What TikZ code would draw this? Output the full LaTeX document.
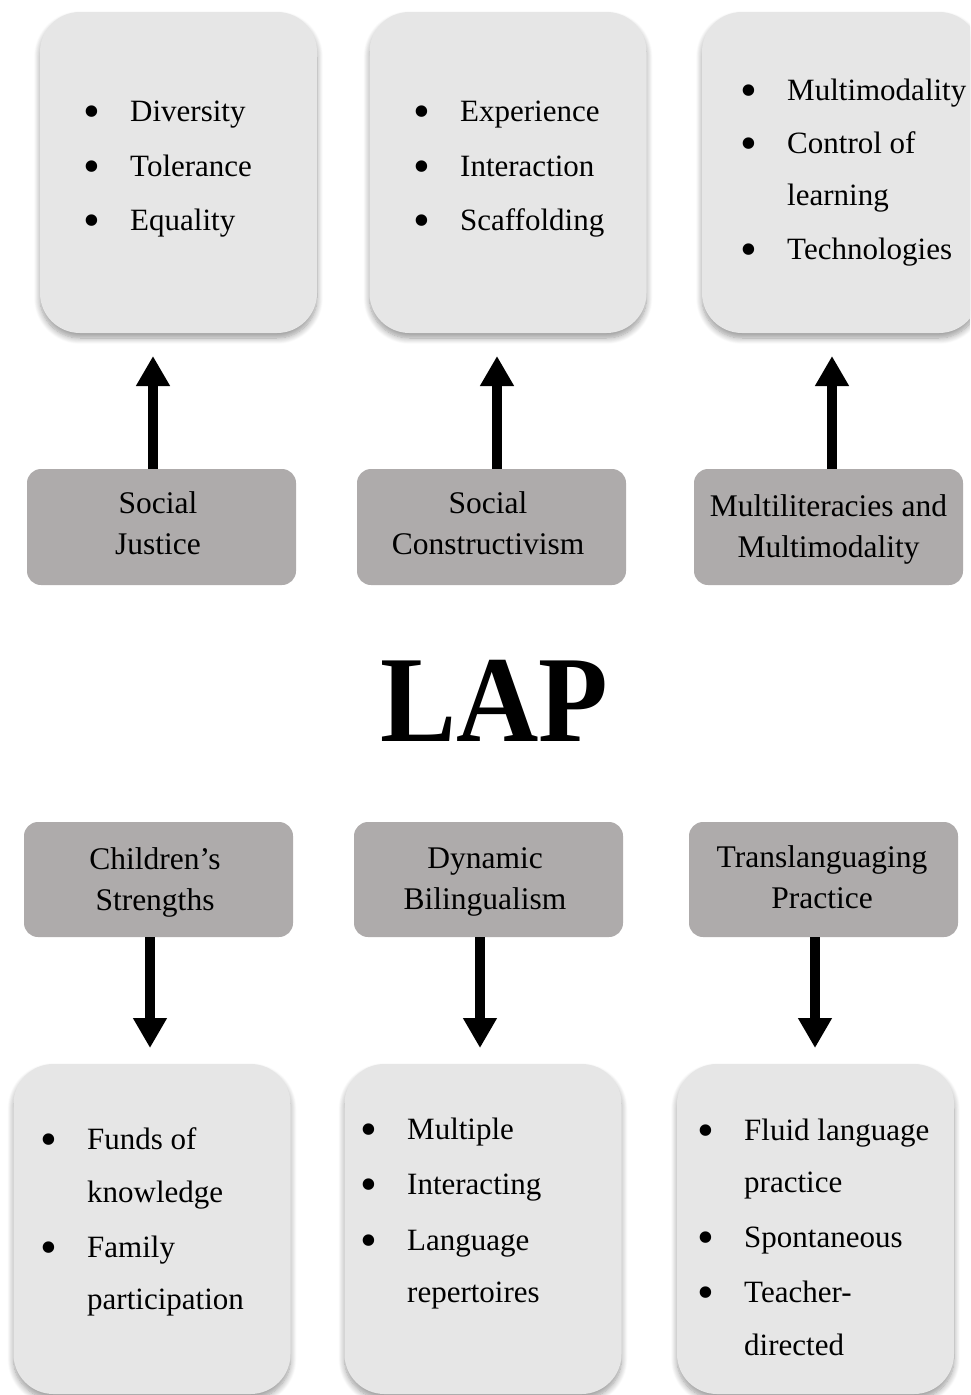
\documentclass[tikz,border=0pt]{standalone}
\usepackage{fontspec}
\setmainfont{Liberation Serif}
\usetikzlibrary{arrows.meta,shadows.blur}
\definecolor{lightbox}{RGB}{230,230,230}
\definecolor{darkbox}{RGB}{174,171,171}
\tikzset{
  listbox/.style={rectangle, rounded corners=40pt, fill=lightbox, draw=none, inner sep=0pt,
    minimum width=277pt, blur shadow={shadow xshift=0pt, shadow yshift=-5pt, shadow blur steps=10, shadow blur radius=6pt, shadow opacity=40}},
  catbox/.style={rectangle, rounded corners=14pt, fill=darkbox, draw=none, inner sep=0pt,
    minimum width=269pt, align=center, font=\fontsize{31.5}{41}\selectfont},
  item/.style={anchor=base west, inner sep=0pt, font=\fontsize{31}{37}\selectfont},
  bigarrow/.style={line width=10pt, -{Triangle[width=32pt,length=30pt]}},
}
\newcommand{\bul}[1]{\makebox[44pt][l]{\hspace{-3pt}\raisebox{-6.5pt}{\scalebox{1.55}{\textbullet}}}#1}
\begin{document}
\begin{tikzpicture}[x=1pt,y=-1pt]
\useasboundingbox (0,0) rectangle (970,1395);
\clip (0,0) rectangle (970,1395);

% top list boxes
\node[listbox, minimum height=321pt] (b1) at (178.5,172.5) {};
\node[listbox, minimum height=321pt] (b2) at (508,172.5) {};
\node[listbox, minimum height=321pt] (b3) at (840.5,172.5) {};

\node[item] (b1a) at (86,121) {\bul{Diversity}};
\node[item] (b1b) at (86,176) {\bul{Tolerance}};
\node[item] (b1c) at (86,230) {\bul{Equality}};

\node[item] (b2a) at (416,121) {\bul{Experience}};
\node[item] (b2b) at (416,176) {\bul{Interaction}};
\node[item] (b2c) at (416,230) {\bul{Scaffolding}};

\node[item] (b3a) at (743,100) {\bul{Multimodality}};
\node[item] (b3b) at (743,153) {\bul{Control of}};
\node[item] (b3c) at (787,205) {learning};
\node[item] (b3d) at (743,259) {\bul{Technologies}};

% top category boxes
\node[catbox, minimum height=116pt] (sj) at (161.5,527) {};
\node[catbox, minimum height=116pt] (sc) at (491.5,527) {};
\node[catbox, minimum height=116pt] (mm) at (828.5,527) {};
\node[catbox, fill=none, minimum height=0pt] (sjt) at (158,523) {Social\\Justice};
\node[catbox, fill=none, minimum height=0pt] (sct) at (488,523) {Social\\Constructivism};
\node[catbox, fill=none, minimum height=0pt] (mmt) at (828.5,529) {Multiliteracies and\\Multimodality};

\coordinate (t1) at (153,356);
\coordinate (t2) at (497,356);
\coordinate (t3) at (832,356);
\draw[bigarrow] (sj.north -| t1) -- (t1);
\draw[bigarrow] (sc.north -| t2) -- (t2);
\draw[bigarrow] (mm.north -| t3) -- (t3);

% title
\node[inner sep=0pt, font=\fontsize{114}{120}\selectfont\bfseries] (lap) at (494,701) {\scalebox{1}[1.08]{LAP}};

% bottom category boxes
\node[catbox, minimum height=115pt] (cs) at (158.5,879.5) {};
\node[catbox, minimum height=115pt] (db) at (488.5,879.5) {};
\node[catbox, minimum height=115pt] (tp) at (823.5,879.5) {};
\node[catbox, fill=none, minimum height=0pt] (cst) at (155,882) {Children’s\\Strengths};
\node[catbox, fill=none, minimum height=0pt] (dbt) at (485,881.5) {Dynamic\\Bilingualism};
\node[catbox, fill=none, minimum height=0pt] (tpt) at (822,877.5) {Translanguaging\\Practice};

\coordinate (d1) at (150,1048);
\coordinate (d2) at (480,1048);
\coordinate (d3) at (815,1048);
\draw[bigarrow] (cs.south -| d1) -- (d1);
\draw[bigarrow] (db.south -| d2) -- (d2);
\draw[bigarrow] (tp.south -| d3) -- (d3);

% bottom list boxes
\node[listbox, minimum height=330pt] (g1) at (152,1229) {};
\node[listbox, minimum height=330pt] (g2) at (483,1229) {};
\node[listbox, minimum height=330pt] (g3) at (815.5,1229) {};

\node[item] (g1a) at (43,1149) {\bul{Funds of}};
\node[item] (g1b) at (87,1202) {knowledge};
\node[item] (g1c) at (43,1257) {\bul{Family}};
\node[item] (g1d) at (87,1309) {participation};

\node[item] (g2a) at (363,1139) {\bul{Multiple}};
\node[item] (g2b) at (363,1194) {\bul{Interacting}};
\node[item] (g2c) at (363,1250) {\bul{Language}};
\node[item] (g2d) at (407,1302) {repertoires};

\node[item] (g3a) at (700,1140) {\bul{Fluid language}};
\node[item] (g3b) at (744,1192) {practice};
\node[item] (g3c) at (700,1247) {\bul{Spontaneous}};
\node[item] (g3d) at (700,1302) {\bul{Teacher-}};
\node[item] (g3e) at (744,1355) {directed};
\end{tikzpicture}
\end{document}
